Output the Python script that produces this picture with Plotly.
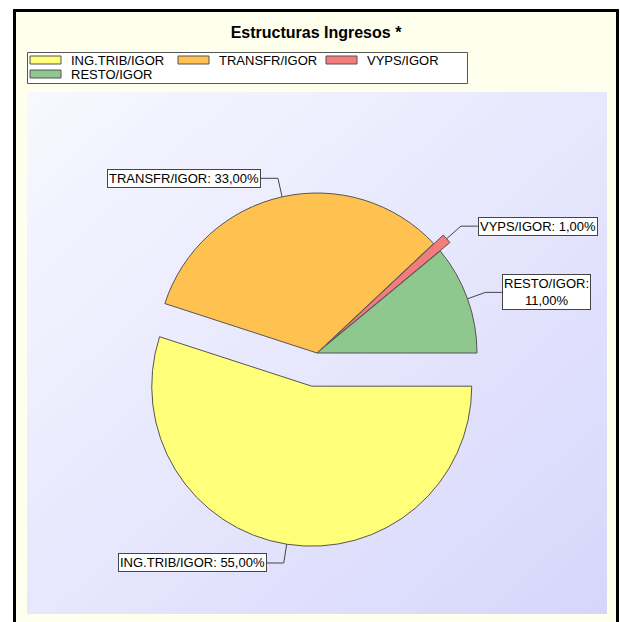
import math
import plotly.graph_objects as go

# data
labels = ["ING.TRIB/IGOR", "TRANSFR/IGOR", "VYPS/IGOR", "RESTO/IGOR"]
values = [55, 33, 1, 11]
colors = ["#FFFF7A", "#FFC250", "#F47C7C", "#8FC88F"]
pulls = [0.21, 0, 0.08, 0]
wrap_label = [False, False, False, True]

W, H = 620, 622
FONT = "Arial, Liberation Sans, sans-serif"


def px(x):
    return x / W


def py(y):
    return 1 - y / H


def mix(c0, c1, t):
    a = [int(c0[i:i + 2], 16) for i in (1, 3, 5)]
    b = [int(c1[i:i + 2], 16) for i in (1, 3, 5)]
    return "rgb(%d,%d,%d)" % tuple(round(a[i] + (b[i] - a[i]) * t) for i in range(3))


shapes = []
annotations = []

# outer frame
shapes.append(dict(type="rect", xref="paper", yref="paper", x0=px(14.5), x1=px(617.5),
                   y0=py(630), y1=py(10.5), line=dict(color="black", width=3),
                   fillcolor="#FFFFEE", layer="below"))

# plot area with a diagonal gradient (stacked polygons)
ax0, ax1, ay0, ay1 = 27, 607, 92, 614
n_steps = 48
for k in range(n_steps):
    a = 2.0 * k / n_steps
    if a <= 1:
        pts = [(a, 0), (1, 0), (1, 1), (0, 1), (0, a)]
    else:
        pts = [(1, a - 1), (1, 1), (a - 1, 1)]
    path = ""
    for j, (u, v) in enumerate(pts):
        path += ("M" if j == 0 else "L") + "%.5f,%.5f " % (px(ax0 + u * (ax1 - ax0)), py(ay0 + v * (ay1 - ay0)))
    path += "Z"
    shapes.append(dict(type="path", xref="paper", yref="paper", path=path, line=dict(width=0),
                       fillcolor=mix("#F8F8FF", "#D6D6FC", (k + 0.5) / n_steps), layer="below"))

# pie geometry
cx, cy, R = 317, 353, 160
half = R * (1 + max(pulls))

fig = go.Figure()
fig.add_trace(go.Pie(
    labels=labels, values=values, sort=False, direction="clockwise", rotation=90,
    pull=pulls, textinfo="none", hoverinfo="skip", showlegend=False,
    marker=dict(colors=colors, line=dict(color="#555555", width=1)),
    domain=dict(x=[px(cx - half), px(cx + half)], y=[py(cy + half), py(cy - half)]),
))

# outside labels with elbow connectors
total = sum(values)
cum = 0
for i, (lab, v) in enumerate(zip(labels, values)):
    mid = -360.0 * (cum + v / 2) / total
    cum += v
    ca, sa = math.cos(math.radians(mid)), math.sin(math.radians(mid))
    d = R * (1 + pulls[i])
    ex, ey = cx + d * ca, cy - d * sa
    bx, by = ex + 19 * ca, ey - 19 * sa
    side = 1 if ca > 0 else -1
    hx = bx + 17 * side
    shapes.append(dict(type="path", xref="paper", yref="paper",
                       path="M%.5f,%.5f L%.5f,%.5f L%.5f,%.5f" % (px(ex), py(ey), px(bx), py(by), px(hx), py(by)),
                       line=dict(color="#444444", width=1), layer="above"))
    pct = ("%.2f" % (100.0 * v / total)).replace(".", ",")
    txt = lab + ":" + ("<br>" if wrap_label[i] else " ") + pct + "%"
    annotations.append(dict(xref="paper", yref="paper", x=px(hx), y=py(by), text=txt,
                            xanchor="left" if side > 0 else "right", yanchor="middle",
                            showarrow=False, bgcolor="white", bordercolor="#444444",
                            borderwidth=1, borderpad=1,
                            font=dict(family=FONT, size=13, color="black")))

# legend box
shapes.append(dict(type="rect", xref="paper", yref="paper", x0=px(27.5), x1=px(467.5),
                   y0=py(83.5), y1=py(52.5), line=dict(color="#555555", width=1),
                   fillcolor="white", layer="above"))
for i, lab in enumerate(labels):
    row, col = divmod(i, 3)
    sx = 30 + 148 * col
    sy = 60 + 14 * row
    shapes.append(dict(type="rect", xref="paper", yref="paper", x0=px(sx), x1=px(sx + 31),
                       y0=py(sy + 4), y1=py(sy - 4), line=dict(color="#555555", width=1),
                       fillcolor=colors[i], layer="above"))
    annotations.append(dict(xref="paper", yref="paper", x=px(sx + 39), y=py(sy), text=lab,
                            xanchor="left", yanchor="middle", showarrow=False,
                            font=dict(family=FONT, size=13, color="black")))

fig.update_layout(
    width=W, height=H, margin=dict(l=0, r=0, t=0, b=0),
    paper_bgcolor="white", plot_bgcolor="white",
    title=dict(text="<b>Estructuras Ingresos *</b>", x=px(316), y=py(32), xanchor="center",
               yanchor="middle", font=dict(family=FONT, size=16, color="black")),
    shapes=shapes, annotations=annotations, showlegend=False,
)

fig.write_html("out.html", config={"displayModeBar": False},
               post_script="document.body.style.margin='0';")
